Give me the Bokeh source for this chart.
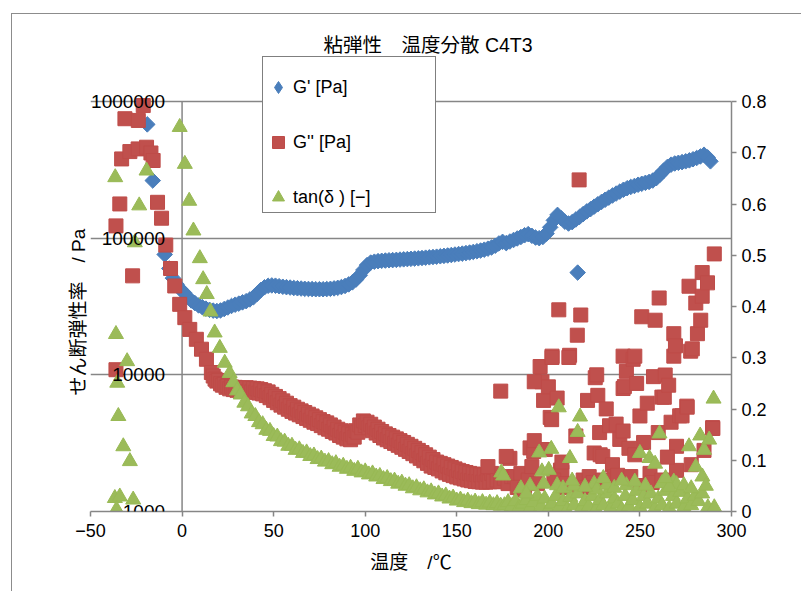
import math
from bokeh.plotting import figure
from bokeh.models import (Range1d, LinearAxis, FixedTicker, LabelSet, LinearScale, Title,
                          ColumnDataSource, Legend, LegendItem, NumeralTickFormatter)
from bokeh.core.properties import value
from bokeh.embed import file_html
from bokeh.resources import INLINE

# ---------------- data ----------------
title_text = "粘弾性　温度分散 C4T3"
x_label = "温度　/℃"
y_label = "せん断弾性率　/ Pa"
series_names = ["G' [Pa]", "G'' [Pa]", "tan(δ ) [−]"]

x_ticks = [-50, 0, 50, 100, 150, 200, 250, 300]
y_ticks = [1000, 10000, 100000, 1000000]
y_tick_labels = ["1000", "10000", "100000", "1000000"]
tan_ticks = [0, 0.1, 0.2, 0.3, 0.4, 0.5, 0.6, 0.7, 0.8]

# G' (storage modulus)
gp_T = [-19, -16, -9.5, -7, -5, -3, -1, 1, 3, 5, 7, 9, 11, 13, 15, 17, 19, 21, 23, 25,
        27, 29, 31, 33, 35, 37, 39, 41, 43, 45, 47, 49, 51, 53, 55, 57, 59, 61, 63, 65,
        67, 69, 71, 73, 75, 77, 79, 81, 83, 85, 87, 89, 91, 93, 95, 97, 99, 101, 103, 105,
        107, 109, 111, 113, 115, 117, 119, 121, 123, 125, 127, 129, 131, 133, 135, 137, 139, 141, 143, 145,
        147, 149, 151, 153, 155, 157, 159, 161, 163, 165, 167, 169, 171, 173, 175, 177, 179, 181, 183, 185,
        187, 189, 191, 193, 195, 197, 199, 201, 203, 205, 207, 209, 211, 213, 215, 217, 219, 221, 223, 225,
        227, 229, 231, 233, 235, 237, 239, 241, 243, 245, 247, 249, 251, 253, 255, 257, 259, 261, 263, 265,
        267, 269, 271, 273, 275, 277, 279, 281, 283, 285, 287, 288.5, 216]
gp_val = [680000, 264000, 76000, 60000, 51000, 46000, 42500, 40000, 37000, 35000,
          33500, 32200, 31300, 30500, 29900, 29500, 29300, 29600, 30300, 31100,
          31900, 32600, 33200, 33900, 34600, 35600, 37000, 39200, 41800, 43700,
          44800, 45100, 44900, 44500, 44100, 43800, 43500, 43200, 43000, 42800,
          42600, 42500, 42400, 42300, 42300, 42300, 42400, 42600, 42900, 43300,
          43900, 44700, 45900, 47500, 49800, 53500, 58500, 63500, 66300, 67300,
          67900, 68300, 68600, 68900, 69100, 69400, 69700, 70000, 70300, 70600,
          70900, 71200, 71600, 72000, 72400, 72800, 73200, 73700, 74200, 74700,
          75300, 75900, 76500, 77100, 77800, 78500, 79300, 80200, 81200, 82400,
          83800, 85500, 88000, 91500, 94000, 92000, 94500, 97000, 99500, 102000,
          105000, 107000, 104000, 101000, 100000, 102000, 108000, 120000, 135000, 148000,
          140000, 132000, 128000, 131000, 137000, 143000, 150000, 157000, 163000, 170000,
          177000, 184000, 191000, 198000, 205000, 212000, 219000, 226000, 232000, 237000,
          241000, 246000, 250000, 254000, 258000, 264000, 275000, 292000, 312000, 332000,
          345000, 352000, 356000, 360000, 365000, 371000, 378000, 386000, 396000, 408000,
          390000, 365000, 56000]

# G'' (loss modulus)
gpp_T = [-36.1, -36.1, -34, -33, -31.2, -28.5, -27, -24, -23.9, -21.2, -19.4, -17, -15.8, -13.4, -11.2,
         -8.9, -6.3, -4, -1.3, 1.5, 4.2, 7.8, 10.6, 13.3,
         16, 17, 18, 19, 20, 21, 22, 23, 24, 25, 26, 27, 28, 29, 30, 31, 32, 33, 34, 35,
         36, 37, 38, 39, 40, 41, 42, 43, 44, 45, 46, 47, 48, 49, 50, 51, 52, 53, 54, 55,
         56, 57, 58, 59, 60, 61, 62, 63, 64, 65, 66, 67, 68, 69, 70, 71, 72, 73, 74, 75,
         76, 77, 78, 79, 80, 81, 82, 83, 84, 85, 86, 87, 88, 89, 90, 91, 92, 93, 94, 95,
         96, 97, 98, 99, 100, 101, 102, 103, 104, 105, 106, 107, 108, 109, 110, 111, 112, 113, 114, 115,
         116, 117, 118, 119, 120, 121, 122, 123, 124, 125, 126, 127, 128, 129, 130, 131, 132, 133, 134, 135,
         136, 137, 138, 139, 140, 141, 142, 143, 144, 145, 146, 147, 148, 149, 150, 151, 152, 153, 154, 155,
         156, 157, 158, 159, 160, 161, 162, 163, 164, 165, 166, 167, 168, 169, 170,
         172, 174, 176, 178, 180, 181.7, 179, 177, 167, 183, 185, 187, 189, 190, 191, 192, 194,
         174, 195.5, 196.5, 197.4, 198.3, 200, 201, 202, 202, 204.8, 205.7, 206.6, 207.4, 209,
         211.6, 211.2, 213, 215, 215, 215.8, 216.8, 217.7, 219, 221.4, 222.3, 224.5, 225, 225.6,
         226.4, 227, 228, 228.3, 229.7, 231.6, 233.4, 235, 236, 237, 237.8, 239, 240.8, 240.8,
         240.8, 241.5, 242.6, 244, 246.3, 247.2, 247.2, 248.2, 250, 251, 252, 254, 255.5, 256.7,
         257.4, 258.3, 260, 260.5, 262, 263.3, 263.8, 265.7, 267, 268.5, 268.5, 269.4, 271.7, 273,
         275.6, 275.8, 276.8, 277.7, 278.6, 280.5, 281.4, 283.2, 284, 284, 286.9, 289.7, 289.8, 290.6,
         203, 210, 220, 230, 245, 250, 262, 270, 278, 285, 270, 265, 192.3, 201.8, 207.4, 192.3]
gpp_val = [123000, 10900, 178000, 380000, 748000, 430000, 53000, 450000, 727000, 934000, 463000, 420000, 370000, 183000, 140000,
           89000, 60000, 44700, 32800, 26200, 21500, 18200, 15400, 13000,
           10400, 9800, 9300, 9000, 9100, 8600, 8400, 8500, 8100, 8300, 7900, 8150, 7800, 8100, 7700, 8000, 7650, 8000, 7600, 8050,
           7550, 8000, 7500, 7950, 7450, 7900, 7350, 7800, 7250, 7650, 7050, 7500, 6800, 7200, 6500, 6950, 6250, 6700, 6000, 6450,
           5800, 6200, 5600, 5950, 5400, 5800, 5250, 5600, 5100, 5450, 4950, 5300, 4800, 5150, 4650, 5000, 4500, 4850, 4400, 4700,
           4250, 4550, 4100, 4450, 4000, 4300, 3850, 4150, 3750, 4000, 3600, 3900, 3500, 3800, 3400, 3700, 3350, 3650, 3500, 3900,
           3800, 4300, 4100, 4600, 4250, 4500, 4100, 4350, 3900, 4150, 3750, 4000, 3600, 3850, 3450, 3700, 3350, 3600, 3250, 3500,
           3150, 3400, 3050, 3300, 2950, 3200, 2850, 3100, 2750, 3000, 2650, 2900, 2550, 2800, 2450, 2700, 2350, 2600, 2250, 2500,
           2150, 2400, 2100, 2300, 2050, 2250, 1980, 2200, 1920, 2150, 1870, 2100, 1830, 2050, 1790, 2000, 1760, 1960, 1730, 1930,
           1700, 1900, 1680, 1880, 1660, 1860, 1650, 1850, 1640, 1850, 1640, 1870, 1650, 1900, 1660,
           1700, 1650, 1750, 1600, 1800, 1800, 2450, 2530, 2130, 1500, 1900, 1450, 1700, 2920, 2130, 2750, 1600,
           7600, 11500, 8900, 6500, 2840, 8170, 4880, 13700, 13400, 6760, 29900, 2010, 1940, 1500,
           13900, 13400, 1550, 3570, 1450, 19500, 267000, 27400, 1700, 6500, 1800, 1630, 2680, 9530,
           10000, 7080, 3780, 2600, 2530, 5630, 4240, 2200, 1800, 4360, 1840, 3370, 3880, 7940,
           13700, 8200, 10600, 2900, 13000, 13700, 2600, 8650, 5000, 26600, 3200, 6200, 1900, 1630,
           9700, 25100, 3780, 36500, 6870, 6850, 9970, 8400, 4500, 13700, 20000, 16300, 5010, 5010,
           5900, 5800, 44500, 14900, 15500, 33500, 20000, 25100, 56000, 37600, 47100, 4110, 4050, 76700,
           1700, 1600, 1500, 1700, 1800, 1550, 1700, 2000, 2200, 2800, 3000, 2500, 8900, 4700, 2300, 3300]

# tan(delta)
td_T = [-36.5, -36.1, -35.4, -34.8, -32.1, -30, -28.5, -36.7, -34, -26.7, -35.8, -25.8, -23.4, -19.4,
        -1.3, 1.5, 3.9, 6.2, 9.7, 11.5, 13.5, 15.5, 17.8, 20.6, 23.3, 26,
        28, 30, 32, 34, 36, 38, 40, 42, 44, 46, 48, 50, 52, 54, 56, 58, 60, 62, 64, 66,
        68, 70, 72, 74, 76, 78, 80, 82, 84, 86, 88, 90, 92, 94, 96, 98, 100, 102, 104, 106,
        108, 110, 112, 114, 116, 118, 120, 122, 124, 126, 128, 130, 132, 134, 136, 138, 140, 142, 144, 146,
        148, 150, 152, 154, 156, 158, 160, 162, 164, 166, 168, 170, 172, 174,
        176, 178, 180, 182, 184, 186, 188, 190, 192, 194, 196, 198, 200, 202, 204, 206, 208, 210,
        212, 214, 216, 218, 220, 222, 224, 226, 228, 230, 232, 234, 236, 238, 240, 242, 244, 246,
        248, 250, 252, 254, 256, 258, 260, 262, 264, 266, 268, 270, 272, 274, 276, 278, 280, 282, 284,
        174.3, 175.3, 195, 196.5, 197.4, 200.2, 201.6, 204.8, 205.7, 211.8, 216, 217.3, 225, 226.4,
        242.6, 247.2, 250, 255.2, 258.3, 260.7, 268.5, 270, 274, 276.8, 280.5, 282.9, 284.1, 285,
        287.1, 287.8, 290.2, 290.6,
        185, 190, 208, 214, 220, 232, 236, 253, 262, 266, 278, 286, 188, 213, 230, 240, 264]
td_val = [0.652, 0.346, 0.251, 0.186, 0.127, 0.293, 0.098, 0.026, 0.029, 0.023, 0.004, 0.525, 0.597, 0.665,
          0.750, 0.678, 0.606, 0.548, 0.494, 0.453, 0.424, 0.390, 0.349, 0.319, 0.290, 0.270,
          0.252, 0.236, 0.228, 0.212, 0.205, 0.191, 0.186, 0.174, 0.170, 0.159, 0.157, 0.147, 0.146, 0.137, 0.136, 0.128, 0.128, 0.120, 0.121, 0.114,
          0.115, 0.108, 0.109, 0.102, 0.103, 0.097, 0.098, 0.092, 0.094, 0.087, 0.089, 0.083, 0.085, 0.079, 0.083, 0.076, 0.078, 0.072, 0.074, 0.068,
          0.069, 0.063, 0.065, 0.059, 0.060, 0.054, 0.056, 0.050, 0.051, 0.045, 0.047, 0.041, 0.043, 0.037, 0.039, 0.033, 0.035, 0.029, 0.031, 0.025,
          0.027, 0.021, 0.023, 0.018, 0.021, 0.016, 0.019, 0.014, 0.018, 0.013, 0.017, 0.012, 0.016, 0.011,
          0.012, 0.018, 0.010, 0.020, 0.008, 0.015, 0.022, 0.006, 0.018, 0.030, 0.010, 0.025, 0.004, 0.015, 0.030, 0.008, 0.020, 0.002,
          0.028, 0.012, 0.035, 0.006, 0.020, 0.010, 0.030, 0.004, 0.022, 0.012, 0.035, 0.006, 0.025, 0.015, 0.004, 0.030, 0.010, 0.022,
          0.040, 0.008, 0.030, 0.015, 0.035, 0.005, 0.025, 0.012, 0.040, 0.006, 0.030, 0.015, 0.038, 0.008, 0.025, 0.012, 0.030, 0.020, 0.035,
          0.076, 0.070, 0.115, 0.078, 0.054, 0.081, 0.122, 0.051, 0.203, 0.104, 0.155, 0.185, 0.054, 0.043,
          0.051, 0.058, 0.114, 0.104, 0.093, 0.152, 0.058, 0.053, 0.051, 0.127, 0.087, 0.148, 0.068, 0.120,
          0.008, 0.140, 0.220, 0.008,
          0.045, 0.050, 0.045, 0.050, 0.048, 0.052, 0.046, 0.050, 0.055, 0.048, 0.045, 0.050, 0.035, 0.060, 0.065, 0.060, 0.065]

# ---------------- styling ----------------
FONT = "'Liberation Sans', 'Noto Sans CJK JP', sans-serif"
AXIS_GRAY = "#868686"
BLUE = "#4A7EBB"
RED = "#C0504D"
GREEN = "#9BBB59"

DECADE_PX = 410 / 3
# the frame reaches a little above the top gridline so that the legend box can sit there
G_TOP = 10 ** (6 + 45 / DECADE_PX)
TAN_TOP = 0.8 + 45 * 0.8 / 410

p = figure(frame_width=641, frame_height=455,
           x_range=Range1d(-50, 300), y_range=Range1d(1000, G_TOP),
           y_axis_type="log", output_backend="svg", toolbar_location=None,
           min_border_left=78, min_border_right=70, min_border_top=42, min_border_bottom=80)
p.extra_y_ranges = {"tan": Range1d(0, TAN_TOP)}
p.extra_y_scales = {"tan": LinearScale()}
p.outline_line_color = None
p.background_fill_color = "white"
p.border_fill_color = "white"
p.styles = {"margin-left": "11px", "margin-top": "13px",
            "border-left": "1px solid #8c8c8c", "border-top": "1px solid #8c8c8c"}

# title
p.title.text = title_text
p.title.text_font = FONT
p.title.text_font_size = "19.5px"
p.title.text_font_style = "normal"
p.title.text_color = "#000000"
p.title.align = "left"
p.title.offset = 233
try:
    p.title.standoff = 2
except Exception:
    pass

# grid
p.xgrid.visible = False
p.ygrid.ticker = FixedTicker(ticks=y_ticks)
p.ygrid.grid_line_color = AXIS_GRAY
p.ygrid.grid_line_width = 1.5

# bottom axis
xa = p.xaxis[0]
xa.ticker = FixedTicker(ticks=x_ticks)
xa.major_label_overrides = {-50: "−50"}
xa.axis_line_color = AXIS_GRAY
xa.axis_line_width = 1.5
xa.major_tick_line_color = AXIS_GRAY
xa.major_tick_line_width = 1.5
xa.major_tick_in = 0
xa.major_tick_out = 5
xa.minor_tick_line_color = None
xa.major_label_text_font = FONT
xa.major_label_text_font_size = "18px"
xa.major_label_text_color = "#000000"
xa.major_label_standoff = 7
xa.axis_label = x_label
xa.axis_label_text_font = FONT
xa.axis_label_text_font_size = "19px"
xa.axis_label_text_font_style = "normal"
xa.axis_label_text_color = "#000000"
xa.axis_label_standoff = 12

# left log axis: no ticks of its own (tick labels are drawn beside x=0 as in the original)
ya = p.yaxis[0]
ya.ticker = FixedTicker(ticks=[])
ya.axis_line_color = None
ya.major_tick_out = 0
ya.major_tick_in = 0
ya.minor_tick_line_color = None

# y title as a side title, starting just above the lowest gridline like the original
ytitle = Title(text=y_label, align="left", offset=116, standoff=4,
               text_font=FONT, text_font_size="19px", text_font_style="normal",
               text_color="#000000")
p.add_layout(ytitle, "left")

# right axis for tan(delta)
ra = LinearAxis(y_range_name="tan", ticker=FixedTicker(ticks=tan_ticks),
                formatter=NumeralTickFormatter(format="0.[0]"),
                bounds=(tan_ticks[0], tan_ticks[-1]))
ra.axis_line_color = AXIS_GRAY
ra.axis_line_width = 1.5
ra.major_tick_line_color = AXIS_GRAY
ra.major_tick_line_width = 1.5
ra.major_tick_in = 0
ra.major_tick_out = 5
ra.minor_tick_line_color = None
ra.major_label_text_font = FONT
ra.major_label_text_font_size = "18px"
ra.major_label_text_color = "#000000"
ra.major_label_standoff = 5
p.add_layout(ra, "right")

# vertical axis line at x = 0, from the lowest to the highest decade
p.segment(x0=[x_ticks[1]], y0=[y_ticks[0]], x1=[x_ticks[1]], y1=[y_ticks[-1]],
          line_color=AXIS_GRAY, line_width=1.5)

# series
r1 = p.scatter(gp_T, gp_val, marker="square", size=11, angle=math.pi / 4,
               fill_color=BLUE, line_color=BLUE, line_width=1)
r2 = p.scatter(gpp_T, gpp_val, marker="square", size=14,
               fill_color=RED, line_color="#BE4B48", line_width=1)
r3 = p.scatter(td_T, td_val, marker="triangle", size=15, y_range_name="tan",
               fill_color=GREEN, line_color="#98B954", line_width=1)
# legend swatch for G' (a diamond), no visible data of its own
r1_key = p.scatter([float("nan")], [float("nan")], marker="diamond", size=11,
                   fill_color=BLUE, line_color=BLUE, line_width=1)

# left tick labels placed beside the x = 0 axis
lab_src = ColumnDataSource(dict(x=[0] * len(y_ticks), y=y_ticks, text=y_tick_labels))
p.add_layout(LabelSet(x="x", y="y", text="text", source=lab_src, x_offset=-17,
                      text_align="right", text_baseline="middle",
                      text_font=value(FONT), text_font_size=value("19px"),
                      text_color="#000000"))

# legend
legend = Legend(items=[LegendItem(label=series_names[0], renderers=[r1_key]),
                       LegendItem(label=series_names[1], renderers=[r2]),
                       LegendItem(label=series_names[2], renderers=[r3])],
                location=(172, 298), orientation="vertical",
                glyph_width=30, glyph_height=30, label_height=30,
                padding=0, spacing=25, label_standoff=0, label_width=142, margin=0,
                border_line_color="#000000", border_line_width=1,
                background_fill_color="white", background_fill_alpha=1.0,
                label_text_font=FONT, label_text_font_size="18px", label_text_color="#000000",
                title=" ", title_text_font_size="8px", title_standoff=6)
p.add_layout(legend)

open("out.html", "w").write(file_html(p, INLINE))
